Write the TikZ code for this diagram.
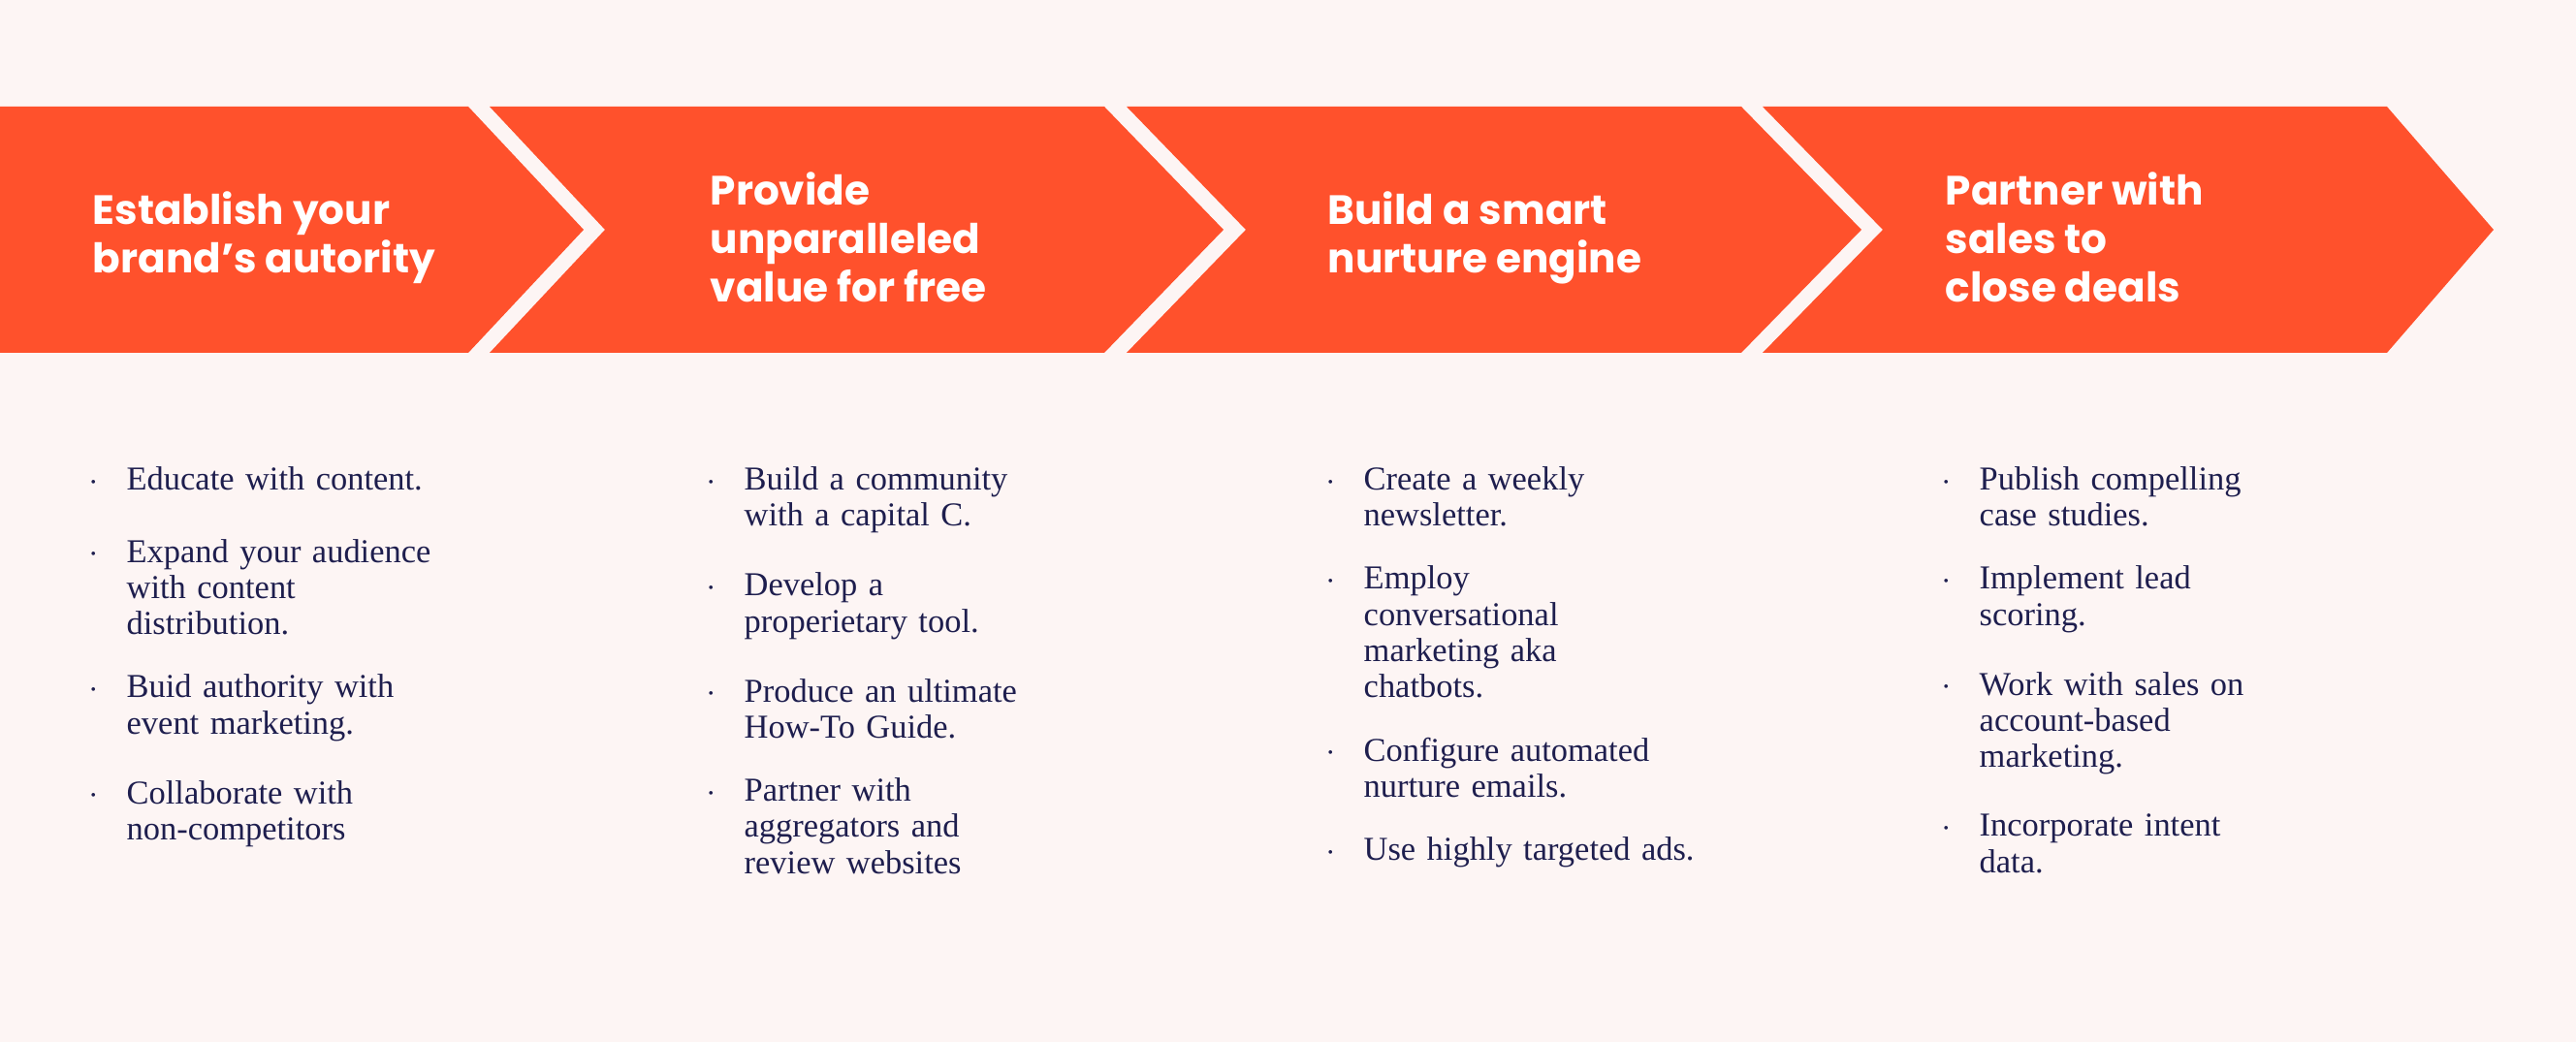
\documentclass[tikz,border=0pt]{standalone}
\usepackage{fontspec}
\setmainfont{Liberation Serif}
\newfontfamily\titlefont{Poppins}
\usetikzlibrary{positioning}
\definecolor{bgpink}{HTML}{FDF5F4}
\definecolor{stepred}{HTML}{FF512C}
\definecolor{inkblue}{HTML}{1E1E4E}
\tikzset{title/.style={anchor=west,align=left,text=white,font=\titlefont\bfseries\fontsize{12}{14.2}\selectfont,inner sep=0pt}}
\tikzset{items/.style={anchor=north west,text width=5cm,text=inkblue,font=\fontsize{9.8}{10.6}\selectfont,inner sep=0pt}}
\tikzset{chevron/.style={fill=stepred,draw=none}}
\newcommand{\stepitem}[1]{\noindent\makebox[0.37cm][l]{\raisebox{0.1em}{\scalebox{0.45}{\textbullet}}}\parbox[t]{4.5cm}{#1}\par\vspace{10.6pt}}

\begin{document}
\begin{tikzpicture}
        \fill[bgpink] (0,0) rectangle (26.57,10.75);
        \useasboundingbox (0,0) rectangle (26.57,10.75);
        % chevrons
        \fill[chevron] (0,9.65) -- (4.83,9.65) -- (6.02,8.38) -- (4.83,7.11) -- (0,7.11) -- cycle;
        \fill[chevron] (5.05,9.65) -- (11.39,9.65) -- (12.62,8.38) -- (11.39,7.11) -- (5.05,7.11) -- (6.24,8.38) -- cycle;
        \fill[chevron] (11.62,9.65) -- (17.96,9.65) -- (19.20,8.38) -- (17.96,7.11) -- (11.62,7.11) -- (12.85,8.38) -- cycle;
        \fill[chevron] (18.18,9.65) -- (24.62,9.65) -- (25.72,8.38) -- (24.62,7.11) -- (18.18,7.11) -- (19.42,8.38) -- cycle;
        % titles
        \node[title] (t1) at (0.95,8.30) {Establish your\\brand’s autority};
        \node[title] (t2) at (7.32,8.30) {Provide\\unparalleled\\value for free};
        \node[title] (t3) at (13.69,8.30) {Build a smart\\nurture engine};
        \node[title] (t4) at (20.06,8.30) {Partner with\\sales to\\close deals};
        % bullet lists
        \node[items] (l1) at (0.93,5.94) {%
            \stepitem{Educate with content.}
            \stepitem{Expand your audience\\with content\\distribution.}
            \stepitem{Buid authority with\\event marketing.}
            \stepitem{Collaborate with\\non-competitors}};
        \node[items] (l2) at (7.30,5.94) {%
            \stepitem{Build a community\\with a capital C.}
            \stepitem{Develop a\\properietary tool.}
            \stepitem{Produce an ultimate\\How-To Guide.}
            \stepitem{Partner with\\aggregators and\\review websites}};
        \node[items] (l3) at (13.69,5.94) {%
            \stepitem{Create a weekly\\newsletter.}
            \stepitem{Employ\\conversational\\marketing aka\\chatbots.}
            \stepitem{Configure automated\\nurture emails.}
            \stepitem{Use highly targeted ads.}};
        \node[items] (l4) at (20.04,5.94) {%
            \stepitem{Publish compelling\\case studies.}
            \stepitem{Implement lead\\scoring.}
            \stepitem{Work with sales on\\account-based\\marketing.}
            \stepitem{Incorporate intent\\data.}};
    \end{tikzpicture}
\end{document}
